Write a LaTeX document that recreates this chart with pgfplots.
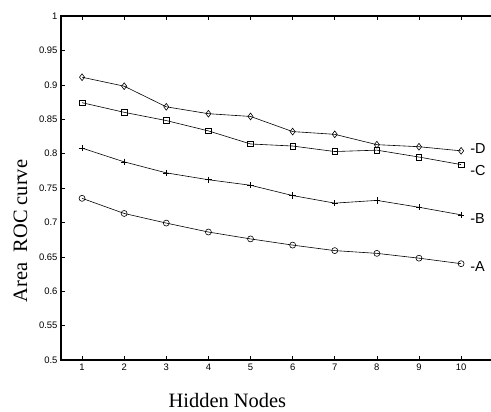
\documentclass[border=0pt]{standalone}
\usepackage{fontspec}
\setmainfont{Liberation Sans}
\newfontfamily\timesfont{Liberation Serif}
\usepackage{pgfplots}
\pgfplotsset{compat=1.18}
\usetikzlibrary{calc}

\begin{document}
\begin{tikzpicture}
\begin{axis}[
    scale only axis,
    width=430bp, height=344bp,
    xmin=0.5, xmax=10.71,
    ymin=0.5, ymax=1,
    axis line style={draw=none},
    xtick={1,2,3,4,5,6,7,8,9,10},
    ytick={0.5,0.55,0.6,0.65,0.7,0.75,0.8,0.85,0.9,0.95,1},
    yticklabels={0.5,0.55,0.6,0.65,0.7,0.75,0.8,0.85,0.9,0.95,1},
    xtick pos=both, ytick pos=left,
    tick align=inside,
    major tick length=4bp,
    tick style={black, line width=0.6bp},
    ticklabel style={font=\fontsize{9.5}{11}\selectfont},
    /pgf/number format/assume math mode=true,
    clip=false,
    every axis plot/.append style={black, line width=0.6bp, mark options={solid, fill=white}},
]
% A
\addplot[mark=o, mark size=3bp] coordinates {
    (1,0.735) (2,0.713) (3,0.699) (4,0.686) (5,0.676)
    (6,0.667) (7,0.659) (8,0.655) (9,0.648) (10,0.640)
};
% B
\addplot[mark=+, mark size=3.2bp] coordinates {
    (1,0.808) (2,0.788) (3,0.772) (4,0.762) (5,0.754)
    (6,0.739) (7,0.728) (8,0.732) (9,0.722) (10,0.711)
};
% C
\addplot[mark=square, mark size=2.8bp] coordinates {
    (1,0.874) (2,0.860) (3,0.848) (4,0.833) (5,0.814)
    (6,0.811) (7,0.803) (8,0.805) (9,0.795) (10,0.784)
};
% D
\addplot[mark=diamond, mark size=3.4bp] coordinates {
    (1,0.911) (2,0.898) (3,0.868) (4,0.858) (5,0.854)
    (6,0.832) (7,0.828) (8,0.813) (9,0.810) (10,0.804)
};

% series names
\begin{scope}[every node/.style={anchor=west, inner sep=0pt, xshift=9bp, font=\fontsize{14.5}{16}\selectfont}]
\node at (axis cs:10,0.807) {-D};
\node at (axis cs:10,0.775) {-C};
\node at (axis cs:10,0.706) {-B};
\node at (axis cs:10,0.636) {-A};
\end{scope}

% frame: left, top and bottom only
\draw[line width=1.8bp] (rel axis cs:1,1) -- (rel axis cs:0,1) -- (rel axis cs:0,0) -- (rel axis cs:1,0);

\coordinate (bl) at (rel axis cs:0,0);
\coordinate (xl) at (rel axis cs:0.387,0);
\coordinate (yl) at (rel axis cs:0,0.375);
\end{axis}

% axis titles
\node[font=\timesfont\fontsize{20.5}{24}\selectfont, anchor=base]
    at ($(xl)+(0,-47bp)$) {Hidden Nodes};
\node[font=\timesfont\fontsize{20.5}{24}\selectfont, anchor=base, rotate=90]
    at ($(yl)+(-34bp,0)$) {Area~~ROC curve};

\pgfresetboundingbox
\path ($(bl)+(-61bp,-52bp)$) rectangle ($(bl)+(430bp,360bp)$);
\end{tikzpicture}
\end{document}
